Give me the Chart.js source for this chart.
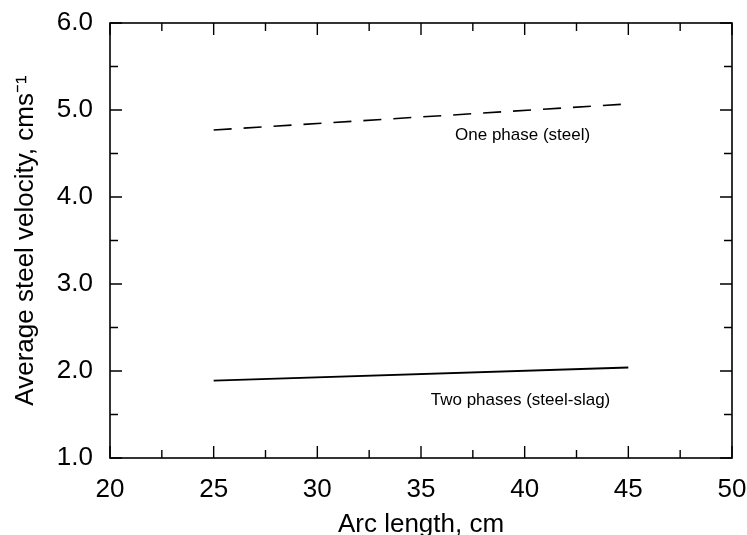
<!DOCTYPE html>
<html>
<head>
<meta charset="utf-8">
<script src="https://cdn.jsdelivr.net/npm/chart.js@4"></script>
<style>
  body { margin: 0; background: #fff; }
  #wrap { width: 747px; height: 535px; }
</style>
</head>
<body>
<div id="wrap"><canvas id="myChart" width="747" height="535"></canvas></div>
<script>
// data
const arcLength = [25, 45];
const onePhase = [4.77, 5.07];
const twoPhases = [1.89, 2.04];

const xTicks = [20, 25, 30, 35, 40, 45, 50];
const yTicks = [1.0, 2.0, 3.0, 4.0, 5.0, 6.0];

const labelTexts = ['One phase (steel)', 'Two phases (steel-slag)'];
const labelX = [39.9, 39.8];
const labelY = [4.71, 1.66];

const FONT = '"Liberation Sans", Arial, sans-serif';

const toPoints = (xs, ys) => xs.map((x, i) => ({ x: x, y: ys[i] }));

// frame + inward ticks on all four sides, plus the curve labels
const framePlugin = {
  id: 'frame',
  afterDatasetsDraw(chart) {
    const { ctx, chartArea: a, scales: { x, y } } = chart;
    ctx.save();
    ctx.strokeStyle = '#000';
    ctx.lineWidth = 1.6;
    ctx.strokeRect(a.left, a.top, a.right - a.left, a.bottom - a.top);

    ctx.lineWidth = 1.4;
    ctx.beginPath();
    for (let i = 0; i < xTicks.length; i++) {
      const px = x.getPixelForValue(xTicks[i]);
      ctx.moveTo(px, a.bottom); ctx.lineTo(px, a.bottom - 12);
      ctx.moveTo(px, a.top); ctx.lineTo(px, a.top + 12);
      if (i < xTicks.length - 1) {
        const mx = x.getPixelForValue((xTicks[i] + xTicks[i + 1]) / 2);
        ctx.moveTo(mx, a.bottom); ctx.lineTo(mx, a.bottom - 8);
        ctx.moveTo(mx, a.top); ctx.lineTo(mx, a.top + 8);
      }
    }
    for (let i = 0; i < yTicks.length; i++) {
      const py = y.getPixelForValue(yTicks[i]);
      ctx.moveTo(a.left, py); ctx.lineTo(a.left + 12, py);
      ctx.moveTo(a.right, py); ctx.lineTo(a.right - 12, py);
      if (i < yTicks.length - 1) {
        const my = y.getPixelForValue((yTicks[i] + yTicks[i + 1]) / 2);
        ctx.moveTo(a.left, my); ctx.lineTo(a.left + 8, my);
        ctx.moveTo(a.right, my); ctx.lineTo(a.right - 8, my);
      }
    }
    ctx.stroke();

    ctx.fillStyle = '#000';
    ctx.font = '17px ' + FONT;
    ctx.textAlign = 'center';
    ctx.textBaseline = 'middle';
    labelTexts.forEach((t, i) => {
      ctx.fillText(t, x.getPixelForValue(labelX[i]), y.getPixelForValue(labelY[i]));
    });
    ctx.restore();
  }
};

// no extra room for overhanging end labels
const noOverhang = (s) => {
  s.paddingLeft = 0; s.paddingRight = 0; s.paddingTop = 0; s.paddingBottom = 0;
};

const ctx = document.getElementById('myChart').getContext('2d');
new Chart(ctx, {
  type: 'scatter',
  data: {
    datasets: [
      {
        label: 'One phase (steel)',
        data: toPoints(arcLength, onePhase),
        showLine: true,
        borderColor: '#000',
        borderWidth: 1.6,
        borderDash: [18, 12],
        pointRadius: 0
      },
      {
        label: 'Two phases (steel-slag)',
        data: toPoints(arcLength, twoPhases),
        showLine: true,
        borderColor: '#000',
        borderWidth: 1.8,
        pointRadius: 0
      }
    ]
  },
  options: {
    responsive: false,
    animation: false,
    layout: { padding: { top: 23, right: 15, left: 0, bottom: 0 } },
    plugins: {
      legend: { display: false },
      tooltip: { enabled: false }
    },
    scales: {
      x: {
        type: 'linear',
        min: 20,
        max: 50,
        afterBuildTicks: (s) => { s.ticks = xTicks.map(v => ({ value: v })); },
        afterFit: (s) => { s.height = 77; noOverhang(s); },
        grid: { display: false, drawTicks: false },
        border: { display: false },
        ticks: {
          color: '#000',
          padding: 16,
          font: { family: FONT, size: 26 }
        },
        title: {
          display: true,
          text: 'Arc length, cm',
          color: '#000',
          padding: { top: 0, bottom: -3 },
          font: { family: FONT, size: 26, lineHeight: 1 }
        }
      },
      y: {
        type: 'linear',
        min: 1,
        max: 6,
        afterBuildTicks: (s) => { s.ticks = yTicks.map(v => ({ value: v })); },
        afterFit: (s) => { s.width = 110; noOverhang(s); },
        grid: { display: false, drawTicks: false },
        border: { display: false },
        ticks: {
          color: '#000',
          padding: 17,
          font: { family: FONT, size: 26 },
          callback: (v) => Number(v).toFixed(1)
        },
        title: {
          display: true,
          text: 'Average steel velocity, cms\u207B\u00B9',
          color: '#000',
          padding: { top: 10, bottom: 0 },
          font: { family: FONT, size: 26, lineHeight: 1.2 }
        }
      }
    }
  },
  plugins: [framePlugin]
});
</script>
</body>
</html>
